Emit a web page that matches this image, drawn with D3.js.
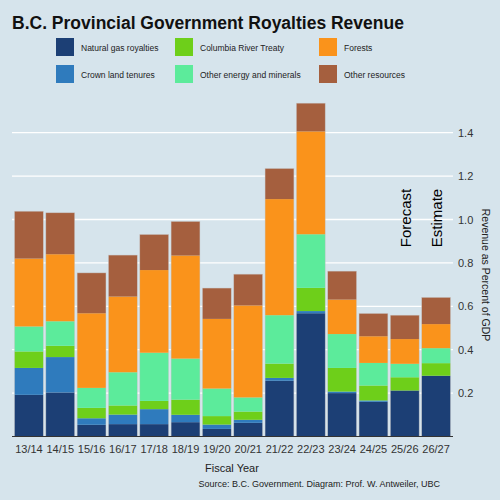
<!DOCTYPE html>
<html><head><meta charset="utf-8">
<script src="https://cdn.jsdelivr.net/npm/d3@7"></script>
<style>body{margin:0;background:#d6e4ec}svg{font-family:"Liberation Sans",Arial,sans-serif}</style>
</head><body><svg id="chart"></svg>
<script>
var years = ['13/14','14/15','15/16','16/17','17/18','18/19','19/20','20/21','21/22','22/23','23/24','24/25','25/26','26/27'];
var seriesNames = ['Natural gas royalties','Crown land tenures','Columbia River Treaty','Other energy and minerals','Forests','Other resources'];
var colors = ['#1c3f75','#2f7bbd','#6ecf1a','#5ceb9b','#fa931b','#a55f3e'];
var natGas   = [0.192,0.203,0.054,0.057,0.057,0.066,0.035,0.063,0.257,0.568,0.200,0.160,0.212,0.280];
var crown    = [0.124,0.163,0.030,0.044,0.069,0.034,0.020,0.014,0.013,0.010,0.007,0.006,0.000,0.000];
var columbia = [0.076,0.052,0.048,0.042,0.038,0.070,0.039,0.038,0.066,0.107,0.109,0.069,0.061,0.058];
var otherEn  = [0.115,0.113,0.092,0.153,0.222,0.189,0.127,0.065,0.223,0.247,0.156,0.104,0.062,0.069];
var forests  = [0.313,0.309,0.344,0.349,0.381,0.475,0.321,0.424,0.535,0.474,0.159,0.123,0.114,0.111];
var otherRes = [0.218,0.191,0.186,0.191,0.164,0.157,0.142,0.144,0.141,0.130,0.131,0.105,0.110,0.123];
var yTicks = [0.2,0.4,0.6,0.8,1.0,1.2,1.4];

var W = 500, H = 500;
var svg = d3.select('#chart').attr('width', W).attr('height', H);
svg.append('rect').attr('width', W).attr('height', H).attr('fill', '#d6e4ec');

var x = d3.scaleBand().domain(years).range([12, 453]).paddingInner(0.08).paddingOuter(0.08);
var y = d3.scaleLinear().domain([0, 1.4]).range([436.5, 132.7]);

var rows = years.map(function(yr, i) {
    return {year: yr, s0: natGas[i], s1: crown[i], s2: columbia[i], s3: otherEn[i], s4: forests[i], s5: otherRes[i]};
});
var stack = d3.stack().keys(['s0','s1','s2','s3','s4','s5'])(rows);

// grid
svg.append('g').selectAll('line').data(yTicks).enter().append('line')
    .attr('x1', 12).attr('x2', 453)
    .attr('y1', function(d){ return y(d); }).attr('y2', function(d){ return y(d); })
    .attr('stroke', '#fff').attr('stroke-width', 1.3);

svg.append('g').selectAll('g').data(stack).enter().append('g')
    .attr('fill', function(d, i){ return colors[i]; })
    .selectAll('rect').data(function(d){ return d; }).enter().append('rect')
    .attr('x', function(d){ return x(d.data.year); })
    .attr('width', x.bandwidth())
    .attr('y', function(d){ return y(d[1]); })
    .attr('height', function(d){ return Math.max(0, y(d[0]) - y(d[1])); });

// bar outlines
svg.append('g').selectAll('rect').data(rows).enter().append('rect')
    .attr('x', function(d){ return x(d.year); }).attr('width', x.bandwidth())
    .attr('y', function(d){ return y(d.s0+d.s1+d.s2+d.s3+d.s4+d.s5); })
    .attr('height', function(d){ return y(0) - y(d.s0+d.s1+d.s2+d.s3+d.s4+d.s5); })
    .attr('fill', 'none').attr('stroke', '#c8c8c8').attr('stroke-width', 0.6).attr('stroke-opacity', 0.7);

svg.append('line').attr('x1', 12).attr('x2', 453).attr('y1', y(0)).attr('y2', y(0))
    .attr('stroke', '#333').attr('stroke-width', 1);

// right axis
var ya = svg.append('g').attr('transform', 'translate(453,0)')
    .call(d3.axisRight(y).tickValues(yTicks).tickFormat(d3.format('.1f')).tickSize(0).tickPadding(5));
ya.select('.domain').remove();
ya.selectAll('text').attr('font-size', 11).attr('fill', '#333').attr('font-family', '"Liberation Sans",Arial,sans-serif');

var xa = svg.append('g').attr('transform', 'translate(0,' + y(0) + ')')
    .call(d3.axisBottom(x).tickSize(0).tickPadding(9));
xa.select('.domain').remove();
xa.selectAll('text').attr('font-size', 11).attr('fill', '#333').attr('font-family', '"Liberation Sans",Arial,sans-serif');

svg.append('text').attr('x', 232).attr('y', 472).attr('text-anchor', 'middle')
    .attr('font-size', 11).attr('fill', '#222').text('Fiscal Year');
svg.append('text').attr('x', 440).attr('y', 487).attr('text-anchor', 'end')
    .attr('font-size', 9).attr('fill', '#222').text('Source: B.C. Government. Diagram: Prof. W. Antweiler, UBC');
svg.append('text').attr('transform', 'translate(482,275) rotate(90)').attr('text-anchor', 'middle')
    .attr('font-size', 10.5).attr('fill', '#222').text('Revenue as Percent of GDP');

[['Forecast','25/26'],['Estimate','26/27']].forEach(function(p){
    svg.append('text')
        .attr('transform', 'translate(' + (x(p[1]) + x.bandwidth()/2 + 6) + ',218) rotate(-90)')
        .attr('text-anchor', 'middle').attr('font-size', 15).attr('fill', '#000').text(p[0]);
});

svg.append('text').attr('x', 12).attr('y', 29).attr('font-size', 17.5).attr('font-weight', 'bold')
    .attr('fill', '#111').text('B.C. Provincial Government Royalties Revenue');

var lx = [56, 175, 319];
var lg = svg.append('g').selectAll('g').data(seriesNames).enter().append('g')
    .attr('transform', function(d, i){ return 'translate(' + lx[Math.floor(i/2)] + ',' + (i % 2 ? 65 : 38) + ')'; });
lg.append('rect').attr('width', 18).attr('height', 18).attr('fill', function(d, i){ return colors[i]; });
lg.append('text').attr('x', 25).attr('y', 13).attr('font-size', 8.5).attr('fill', '#222')
    .text(function(d){ return d; });
</script></body></html>
